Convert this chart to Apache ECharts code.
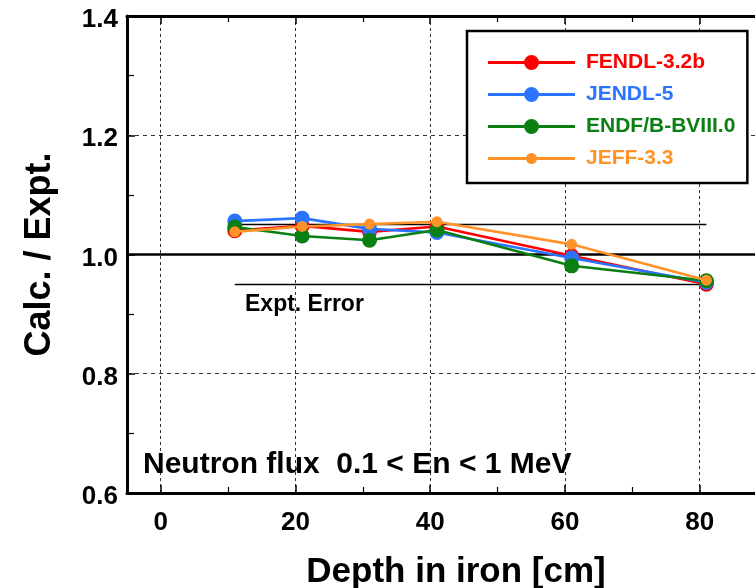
<!DOCTYPE html>
<html>
<head>
<meta charset="utf-8">
<script src="https://cdn.jsdelivr.net/npm/echarts@6/dist/echarts.min.js"></script>
<style>html,body{margin:0;padding:0;background:#fff}#c{width:755px;height:588px}</style>
</head>
<body>
<div id="c"></div>
<script>
// ---- data ----
const depth = [11, 21, 31, 41, 61, 81];
const seriesNames = ['FENDL-3.2b', 'JENDL-5', 'ENDF/B-BVIII.0', 'JEFF-3.3'];
const fendl = [1.040, 1.048, 1.038, 1.047, 0.998, 0.950];
const jendl = [1.056, 1.061, 1.043, 1.037, 0.994, 0.953];
const endf  = [1.046, 1.031, 1.024, 1.041, 0.981, 0.956];
const jeff  = [1.038, 1.047, 1.051, 1.055, 1.017, 0.957];
const xTicks = [0, 20, 40, 60, 80];
const yTicks = [0.6, 0.8, 1.0, 1.2, 1.4];
const errRange = [11, 81];
const errLevels = [1.05, 0.95];
const refLevel = 1.0;

const colors = ['#ff0000', '#2a74ff', '#0a7f12', '#ff9228'];
const symSizes = [15, 15, 15, 11];
const FONT = 'Liberation Sans, Arial, sans-serif';

// geometry
const W = 755, H = 588;
const gLeft = 127, gTop = 16, gBottom = 95, gWidth = 640;
const xMin = -5, xMax = 90;
const pxPer = gWidth / (xMax - xMin);
const g1Left = gLeft + (xTicks[0] - xMin) * pxPer;
const g1Width = (xTicks[xTicks.length - 1] - xTicks[0]) * pxPer;

// legend icon: line with a centred dot (radius depends on series marker)
function legendIcon(r) {
  const c = 43.5, y = 10, a = c - r + 0.5, b = c + r - 0.5;
  return 'path://M0 8.6 H' + a + ' V11.4 H0 Z M' + b + ' 8.6 H87 V11.4 H' + b + ' Z ' +
    'M' + (c + r) + ' ' + y + ' A' + r + ' ' + r + ' 0 1 1 ' + (c - r) + ' ' + y +
    ' A' + r + ' ' + r + ' 0 1 1 ' + (c + r) + ' ' + y + ' Z';
}

const chart = echarts.init(document.getElementById('c'), null, {renderer: 'canvas'});
const allData = [fendl, jendl, endf, jeff];

const series = allData.map((vals, i) => ({
  name: seriesNames[i],
  type: 'line',
  xAxisIndex: 0, yAxisIndex: 0,
  data: depth.map((d, k) => [d, vals[k]]),
  symbol: 'circle',
  symbolSize: symSizes[i],
  showSymbol: true,
  color: colors[i],
  lineStyle: {width: 2.6, color: colors[i]},
  itemStyle: {color: colors[i]},
  z: 5 + i,
  clip: false
}));

// reference and experimental-error lines
series.push({
  type: 'line', xAxisIndex: 0, yAxisIndex: 0, data: [], silent: true,
  markLine: {
    silent: true, symbol: 'none', label: {show: false},
    animation: false,
    data: [
      {yAxis: refLevel, lineStyle: {color: '#000', width: 2.5, type: 'solid'}},
      ...errLevels.map(v => [
        {coord: [errRange[0], v], lineStyle: {color: '#000', width: 1.3, type: 'solid'}},
        {coord: [errRange[1], v]}
      ])
    ]
  },
  z: 3
});

const option = {
  animation: false,
  backgroundColor: '#fff',
  textStyle: {fontFamily: FONT},
  grid: [
    {left: gLeft, top: gTop, width: gWidth, bottom: gBottom, containLabel: false, outerBoundsMode: 'none'},
    {left: g1Left, top: gTop, width: g1Width, bottom: gBottom, containLabel: false, outerBoundsMode: 'none'}
  ],
  xAxis: [
    { // frame bottom
      gridIndex: 0, type: 'value', min: xMin, max: xMax, position: 'bottom',
      axisLine: {show: true, onZero: false, lineStyle: {color: '#000', width: 3}},
      axisTick: {show: false}, axisLabel: {show: false}, splitLine: {show: false},
      name: 'Depth in iron [cm]', nameLocation: 'middle', nameGap: 62,
      nameTextStyle: {fontFamily: FONT, fontWeight: 'bold', fontSize: 35, color: '#000', padding: [0, 0, 0, 18]}
    },
    { // frame top
      gridIndex: 0, type: 'value', min: xMin, max: xMax, position: 'top',
      axisLine: {show: true, onZero: false, lineStyle: {color: '#000', width: 3}},
      axisTick: {show: false}, axisLabel: {show: false}, splitLine: {show: false}
    },
    { // ticks, labels, grid lines bottom
      gridIndex: 1, type: 'value', min: xTicks[0], max: xTicks[xTicks.length - 1],
      interval: xTicks[1] - xTicks[0], position: 'bottom',
      axisLine: {show: false, onZero: false},
      axisTick: {show: true, inside: true, length: 8, lineStyle: {color: '#000', width: 1.5}},
      minorTick: {show: true, splitNumber: 2, length: 6, lineStyle: {color: '#000', width: 1.2}},
      axisLabel: {show: true, margin: 17, fontFamily: FONT, fontWeight: 'bold', fontSize: 26, color: '#000'},
      splitLine: {show: true, lineStyle: {color: '#333', width: 1, type: [3, 3]}}
    },
    { // ticks top
      gridIndex: 1, type: 'value', min: xTicks[0], max: xTicks[xTicks.length - 1],
      interval: xTicks[1] - xTicks[0], position: 'top',
      axisLine: {show: false, onZero: false},
      axisTick: {show: true, inside: true, length: 8, lineStyle: {color: '#000', width: 1.5}},
      minorTick: {show: true, splitNumber: 2, length: 6, lineStyle: {color: '#000', width: 1.2}},
      axisLabel: {show: false}, splitLine: {show: false}
    }
  ],
  yAxis: [
    {
      gridIndex: 0, type: 'value', min: yTicks[0], max: yTicks[yTicks.length - 1],
      interval: 0.2,
      axisLine: {show: true, onZero: false, lineStyle: {color: '#000', width: 3}},
      axisTick: {show: true, inside: true, length: 8, lineStyle: {color: '#000', width: 1.5}},
      minorTick: {show: true, splitNumber: 2, length: 7, lineStyle: {color: '#000', width: 1.2}},
      axisLabel: {show: true, margin: 9, color: '#000',
        formatter: v => '{s|}\n{a|' + v.toFixed(1) + '}',
        rich: {
          s: {height: 8, lineHeight: 8, fontSize: 8},
          a: {fontFamily: FONT, fontWeight: 'bold', fontSize: 26, color: '#000'}
        }},
      splitLine: {show: true, lineStyle: {color: '#333', width: 1, type: [4, 4]}},
      name: 'Calc. / Expt.', nameLocation: 'middle', nameGap: 69, nameRotate: 90,
      nameTextStyle: {fontFamily: FONT, fontWeight: 'bold', fontSize: 36, color: '#000'}
    },
    {
      gridIndex: 1, type: 'value', min: yTicks[0], max: yTicks[yTicks.length - 1], show: false
    }
  ],
  legend: {
    orient: 'vertical',
    left: 467, top: 31,
    backgroundColor: '#fff',
    borderColor: '#000', borderWidth: 2.5, borderRadius: 0,
    padding: [21, 12, 14, 21],
    itemGap: 11,
    itemWidth: 87, itemHeight: 20,
    selectedMode: false,
    symbolKeepAspect: true,
    data: seriesNames.map((n, i) => ({
      name: n, icon: legendIcon(symSizes[i] / 2),
      itemStyle: {color: colors[i]},
      textStyle: {color: colors[i]}
    })),
    textStyle: {fontFamily: FONT, fontWeight: 'bold', fontSize: 21, padding: [0, 0, 0, 6]}
  },
  graphic: [
    {type: 'text', left: 245, top: 293, z: 20,
      style: {text: 'Expt. Error', fill: '#000', font: 'bold 23px ' + FONT}},
    {type: 'text', left: 143, top: 450, z: 20,
      style: {text: 'Neutron flux  0.1 < En < 1 MeV', fill: '#000', font: 'bold 30px ' + FONT}}
  ],
  series: series
};
chart.setOption(option);
</script>
</body>
</html>
